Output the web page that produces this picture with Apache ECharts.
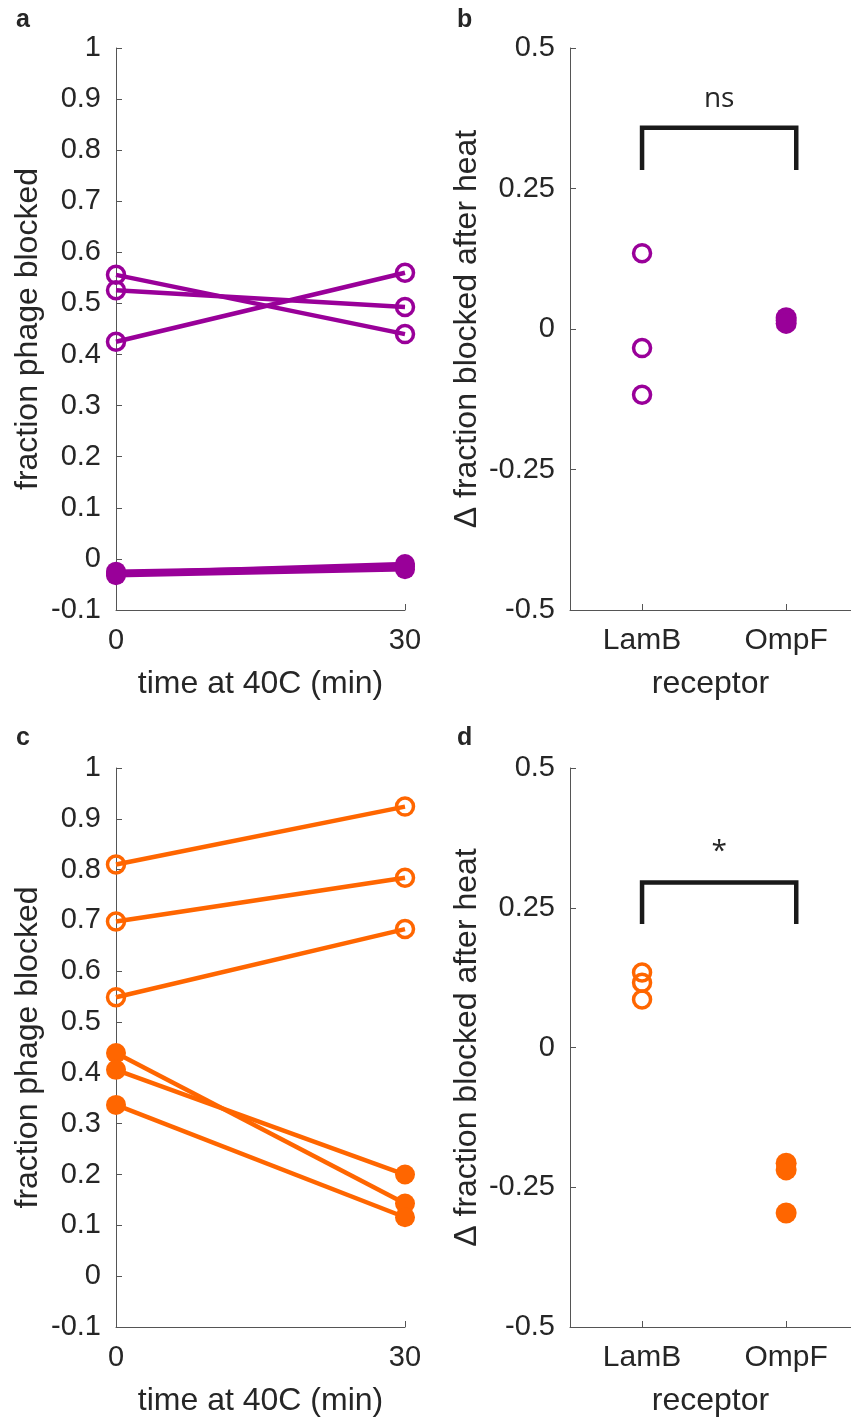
<!DOCTYPE html>
<html>
<head>
<meta charset="utf-8">
<script src="https://cdn.jsdelivr.net/npm/echarts@6/dist/echarts.min.js"></script>
<style>
  html, body { margin: 0; padding: 0; background: #fff; }
  #chart { width: 851px; height: 1418px; }
</style>
</head>
<body>
<div id="chart"></div>
<script>
// heated vs unheated phage, LamB (open) / OmpF (filled)
const timePoints = [0, 30];
const timeTicks = [0, 30];
const fracTicks = [-0.1, 0, 0.1, 0.2, 0.3, 0.4, 0.5, 0.6, 0.7, 0.8, 0.9, 1];
const deltaTicks = [-0.5, -0.25, 0, 0.25, 0.5];
const receptors = ["LamB", "OmpF"];
const receptorPos = [1, 2];

// panel a (purple)
const aOpen = [[0.556, 0.440], [0.526, 0.493], [0.425, 0.560]];
const aFilled = [[-0.028, -0.010], [-0.032, -0.020], [-0.025, -0.015]];
// panel b
const bLamB = [0.135, -0.034, -0.117];
const bOmpF = [0.020, 0.015, 0.010];
// panel c (orange)
const cOpen = [[0.810, 0.924], [0.698, 0.784], [0.549, 0.683]];
const cFilled = [[0.439, 0.143], [0.406, 0.200], [0.337, 0.116]];
// panel d
const dLamB = [0.134, 0.116, 0.086];
const dOmpF = [-0.207, -0.219, -0.296];

const bSig = "ns";
const dSig = "*";

const purple = "#990099";
const orange = "#ff6600";
const ink = "#262626";
const axisGrey = "#555";
const font = "Liberation Sans";

const chart = echarts.init(document.getElementById("chart"));

const nameStyle = { fontFamily: font, fontSize: 32, color: ink };

function yAxisFor(grid, ticks, name, gap, fmt) {
  return {
    type: "value", gridIndex: grid,
    min: ticks[0], max: ticks[ticks.length - 1],
    interval: ticks[1] - ticks[0],
    name: name, nameLocation: "middle", nameGap: gap,
    nameTextStyle: nameStyle,
    splitLine: { show: false },
    axisLine: { show: true, onZero: false, lineStyle: { color: axisGrey, width: 1 } },
    axisTick: { show: true, inside: true, length: 6, lineStyle: { color: axisGrey } },
    axisLabel: { fontFamily: font, fontSize: 29, color: ink, margin: 15, formatter: fmt }
  };
}

function timeAxis(grid) {
  return {
    type: "value", gridIndex: grid, min: timeTicks[0], max: timeTicks[1], interval: 30,
    name: "time at 40C (min)", nameLocation: "middle", nameGap: 58,
    nameTextStyle: nameStyle,
    splitLine: { show: false },
    axisLine: { onZero: false, lineStyle: { color: axisGrey } },
    axisTick: { inside: true, length: 6, lineStyle: { color: axisGrey } },
    axisLabel: { fontFamily: font, fontSize: 29, color: ink, margin: 16 }
  };
}

function receptorAxis(grid) {
  return {
    type: "value", gridIndex: grid, min: 0.5, max: 2.45,
    name: "receptor", nameLocation: "middle", nameGap: 58,
    nameTextStyle: nameStyle,
    splitLine: { show: false },
    axisLine: { onZero: false, lineStyle: { color: axisGrey } },
    axisTick: { inside: true, length: 6, lineStyle: { color: axisGrey }, customValues: receptorPos },
    axisLabel: {
      fontFamily: font, fontSize: 30, color: ink, margin: 16,
      customValues: receptorPos,
      formatter: (v) => receptors[receptorPos.indexOf(v)] || ""
    }
  };
}

const fracFmt = (v) => String(Math.round(v * 10) / 10);
const deltaFmt = (v) => String(Math.round(v * 100) / 100);

function markerStyle(color, open) {
  return open
    ? { color: "rgba(255,255,255,0)", borderColor: color, borderWidth: 3.5, opacity: 1 }
    : { color: color, borderWidth: 0, opacity: 1 };
}

function pairLines(pairs, grid, color, open) {
  return pairs.map((p) => ({
    type: "line", xAxisIndex: grid, yAxisIndex: grid, clip: false,
    data: timePoints.map((t, i) => [t, p[i]]),
    symbol: "circle", symbolSize: open ? 17 : 20,
    lineStyle: { color: color, width: 4.5 },
    itemStyle: markerStyle(color, open),
    emphasis: { disabled: true }, z: open ? 3 : 2
  }));
}

function dots(vals, x, grid, color, open) {
  return {
    type: "scatter", xAxisIndex: grid, yAxisIndex: grid, clip: false,
    data: vals.map((v) => [x, v]),
    symbol: "circle", symbolSize: open ? 17 : 21,
    itemStyle: markerStyle(color, open),
    emphasis: { disabled: true }
  };
}

function bracket(grid, top, leg, label, labelY) {
  return [{
    type: "line", xAxisIndex: grid, yAxisIndex: grid, clip: false,
    data: [[1, leg], [1, top], [2.07, top], [2.07, leg]],
    symbol: "none", lineStyle: { color: "#1a1a1a", width: 4.5, join: "miter", cap: "butt" },
    emphasis: { disabled: true }
  }, {
    type: "scatter", xAxisIndex: grid, yAxisIndex: grid, symbolSize: 0,
    data: [[1.535, labelY]],
    itemStyle: { opacity: 1 },
    label: { show: true, position: "inside", formatter: label, fontFamily: "Open Sans", fontSize: 28, color: ink },
    emphasis: { disabled: true }
  }];
}

chart.setOption({
  animation: false,
  backgroundColor: "#fff",
  grid: [
    { left: 116, top: 48, width: 289, height: 562 },
    { left: 570, top: 48, width: 281, height: 562 },
    { left: 116, top: 768, width: 289, height: 562 },
    { left: 570, top: 768, width: 281, height: 562 }
  ],
  xAxis: [timeAxis(0), receptorAxis(1), timeAxis(2), receptorAxis(3)],
  yAxis: [
    yAxisFor(0, fracTicks, "fraction phage blocked", 72, fracFmt),
    yAxisFor(1, deltaTicks, "\u0394 fraction blocked after heat", 87, deltaFmt),
    yAxisFor(2, fracTicks, "fraction phage blocked", 72, fracFmt),
    yAxisFor(3, deltaTicks, "\u0394 fraction blocked after heat", 87, deltaFmt)
  ],
  graphic: [
    { type: "text", left: 16, top: 8, style: { text: "a", font: "bold 25px " + font, fill: ink } },
    { type: "text", left: 457, top: 8, style: { text: "b", font: "bold 25px " + font, fill: ink } },
    { type: "text", left: 16, top: 726, style: { text: "c", font: "bold 25px " + font, fill: ink } },
    { type: "text", left: 457, top: 726, style: { text: "d", font: "bold 25px " + font, fill: ink } }
  ],
  series: [
    ...pairLines(aFilled, 0, purple, false),
    ...pairLines(aOpen, 0, purple, true),
    dots(bLamB, 1, 1, purple, true),
    dots(bOmpF, 2, 1, purple, false),
    ...bracket(1, 0.358, 0.283, bSig, 0.41),
    ...pairLines(cFilled, 2, orange, false),
    ...pairLines(cOpen, 2, orange, true),
    dots(dLamB, 1, 3, orange, true),
    dots(dOmpF, 2, 3, orange, false),
    ...bracket(3, 0.295, 0.221, dSig, 0.35)
  ]
});
</script>
</body>
</html>
